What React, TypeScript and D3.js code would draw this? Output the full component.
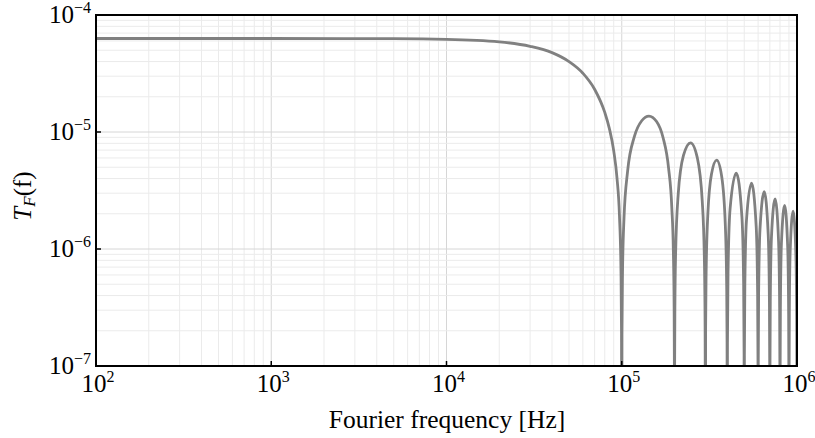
import React from "react";
import * as d3 from "d3";

// ---- data (frequency [Hz], T_F value) ----
// Values of 1e-9 mark the nulls, which fall far below the visible axis.
const mainLobe: [number, number][] = [
  [100, 6.3e-5], [1000, 6.3e-5], [5000, 6.27e-5], [10000, 6.2e-5], [20000, 5.9e-5],
  [30000, 5.4e-5], [40000, 4.77e-5], [50000, 4.0e-5], [60000, 3.18e-5], [70000, 2.32e-5],
  [80000, 1.47e-5], [85000, 1.07e-5], [90000, 6.9e-6], [94000, 4.0e-6], [97000, 1.95e-6],
  [99000, 6.4e-7], [99700, 1.9e-7], [100000, 1e-9],
];
const lobe1: [number, number][] = [
  [100300, 1.88e-7], [101000, 6.23e-7], [103000, 1.83e-6], [108000, 4.62e-6], [118000, 9.11e-6],
  [130000, 1.248e-5], [143000, 1.369e-5], [158000, 1.229e-5], [172000, 8.98e-6], [185000, 4.92e-6],
  [193000, 2.27e-6], [197000, 9.58e-7], [199000, 3.16e-7], [199700, 9.46e-8], [200000, 1e-9],
];
const lobe2: [number, number][] = [
  [200300, 9.43e-8], [201000, 3.13e-7], [203000, 9.3e-7], [210000, 2.95e-6], [225000, 6.3e-6],
  [247000, 8.08e-6], [270000, 6.01e-6], [288000, 2.56e-6], [296000, 8.49e-7], [299000, 2.11e-7],
  [299700, 6.3e-8], [300000, 1e-9],
];
const lobe3: [number, number][] = [
  [301000, 2.09e-7], [303000, 6.23e-7], [310000, 2.0e-6], [325000, 4.36e-6], [348000, 5.75e-6],
  [372000, 4.15e-6], [390000, 1.59e-6], [397000, 4.75e-7], [399000, 1.58e-7], [400000, 1e-9],
];
const lobe4: [number, number][] = [
  [401000, 1.57e-7], [404000, 6.22e-7], [415000, 2.19e-6], [450000, 4.456e-6], [485000, 1.88e-6],
  [496000, 5.07e-7], [499000, 1.26e-7], [500000, 1e-9],
];
const lobe5: [number, number][] = [
  [501000, 1.26e-7], [504000, 4.99e-7], [515000, 1.77e-6], [550000, 3.646e-6], [585000, 1.56e-6],
  [596000, 4.22e-7], [599000, 1.05e-7], [600000, 1e-9],
];
const lobe6: [number, number][] = [
  [601000, 1.05e-7], [604000, 4.16e-7], [615000, 1.48e-6], [650000, 3.085e-6], [685000, 1.33e-6],
  [696000, 3.61e-7], [699000, 9.0e-8], [700000, 1e-9],
];
const lobe7: [number, number][] = [
  [701000, 8.98e-8], [704000, 3.57e-7], [715000, 1.27e-6], [750000, 2.674e-6], [785000, 1.16e-6],
  [796000, 3.16e-7], [799000, 7.88e-8], [800000, 1e-9],
];
const lobe8: [number, number][] = [
  [801000, 7.86e-8], [804000, 3.13e-7], [815000, 1.12e-6], [850000, 2.359e-6], [885000, 1.03e-6],
  [896000, 2.8e-7], [899000, 7.0e-8], [900000, 1e-9],
];
const lobe9: [number, number][] = [
  [901000, 6.99e-8], [904000, 2.78e-7], [915000, 9.95e-7], [950000, 2.111e-6], [985000, 9.24e-7],
  [996000, 2.52e-7], [999000, 6.3e-8], [1000000, 1e-9],
];

const xTickExps = [2, 3, 4, 5, 6];
const yTickExps = [-7, -6, -5, -4];
const xDomain: [number, number] = [1e2, 1e6];
const yDomain: [number, number] = [1e-7, 1e-4];
const xLabel = "Fourier frequency [Hz]";

const W = 815;
const H = 438;
const M = { left: 96, right: 797, top: 15, bottom: 366 };
const FONT = "'Liberation Serif', 'Times New Roman', serif";

export default function App() {
  const x = d3.scaleLog().domain(xDomain).range([M.left, M.right]);
  const y = d3.scaleLog().domain(yDomain).range([M.bottom, M.top]);

  const series = [
    ...mainLobe, ...lobe1, ...lobe2, ...lobe3, ...lobe4,
    ...lobe5, ...lobe6, ...lobe7, ...lobe8, ...lobe9,
  ];
  const line = d3
    .line<[number, number]>()
    .x((d) => x(d[0]))
    .y((d) => y(d[1]))
    .curve(d3.curveMonotoneX);

  const isDecade = (v: number) => Math.abs(Math.log10(v) - Math.round(Math.log10(v))) < 1e-9;
  const xGrid = x.ticks().filter((v) => v > xDomain[0] && v < xDomain[1]);
  const yGrid = y.ticks().filter((v) => v > yDomain[0] && v < yDomain[1]);

  const sup = (e: number) => (e < 0 ? "\u2212" + Math.abs(e) : String(e));

  return (
    <svg
      width={W}
      height={H}
      style={{ position: "absolute", left: 0, top: 0, background: "#fff" }}
      fontFamily={FONT}
    >
      <defs>
        <clipPath id="plotClip">
          <rect x={M.left} y={M.top} width={M.right - M.left} height={M.bottom - M.top} />
        </clipPath>
      </defs>
      <rect x={0} y={0} width={W} height={H} fill="#fff" />
      {/* grid */}
      {xGrid.map((v, i) => (
        <line
          key={"gx" + i}
          x1={x(v)}
          x2={x(v)}
          y1={M.top}
          y2={M.bottom}
          stroke={isDecade(v) ? "#d6d6d6" : "#ebebeb"}
          strokeWidth={1}
        />
      ))}
      {yGrid.map((v, i) => (
        <line
          key={"gy" + i}
          x1={M.left}
          x2={M.right}
          y1={y(v)}
          y2={y(v)}
          stroke={isDecade(v) ? "#d6d6d6" : "#ebebeb"}
          strokeWidth={1}
        />
      ))}
      {/* curve */}
      <path
        d={line(series) || ""}
        fill="none"
        stroke="#808080"
        strokeWidth={2.8}
        strokeLinejoin="round"
        clipPath="url(#plotClip)"
      />
      {/* ticks */}
      {xTickExps.map((e) => (
        <line
          key={"tx" + e}
          x1={x(Math.pow(10, e))}
          x2={x(Math.pow(10, e))}
          y1={M.bottom}
          y2={M.bottom - 5}
          stroke="#000"
          strokeWidth={1.5}
        />
      ))}
      {yTickExps.map((e) => (
        <line
          key={"ty" + e}
          x1={M.left}
          x2={M.left + 5}
          y1={y(Math.pow(10, e))}
          y2={y(Math.pow(10, e))}
          stroke="#000"
          strokeWidth={1.5}
        />
      ))}
      {/* frame */}
      <rect
        x={M.left}
        y={M.top}
        width={M.right - M.left}
        height={M.bottom - M.top}
        fill="none"
        stroke="#000"
        strokeWidth={2}
      />
      {/* x tick labels */}
      {xTickExps.map((e) => (
        <text
          key={"lx" + e}
          x={x(Math.pow(10, e)) + 2}
          y={392}
          textAnchor="middle"
          fontSize={25}
          fill="#000"
        >
          10
          <tspan dy={-10} fontSize={16}>
            {sup(e)}
          </tspan>
        </text>
      ))}
      {/* y tick labels */}
      {yTickExps.map((e) => (
        <text
          key={"ly" + e}
          x={91}
          y={y(Math.pow(10, e)) + 8}
          textAnchor="end"
          fontSize={25}
          fill="#000"
        >
          10
          <tspan dy={-10} fontSize={16}>
            {sup(e)}
          </tspan>
        </text>
      ))}
      {/* axis labels */}
      <text x={447} y={428} textAnchor="middle" fontSize={25.5} fill="#000">
        {xLabel}
      </text>
      <text
        transform={`translate(31, 196) rotate(-90)`}
        textAnchor="middle"
        fontSize={25}
        fill="#000"
      >
        <tspan fontStyle="italic">T</tspan>
        <tspan fontStyle="italic" fontSize={17} dy={4}>
          F
        </tspan>
        <tspan dy={-4}>(f)</tspan>
      </text>
    </svg>
  );
}
